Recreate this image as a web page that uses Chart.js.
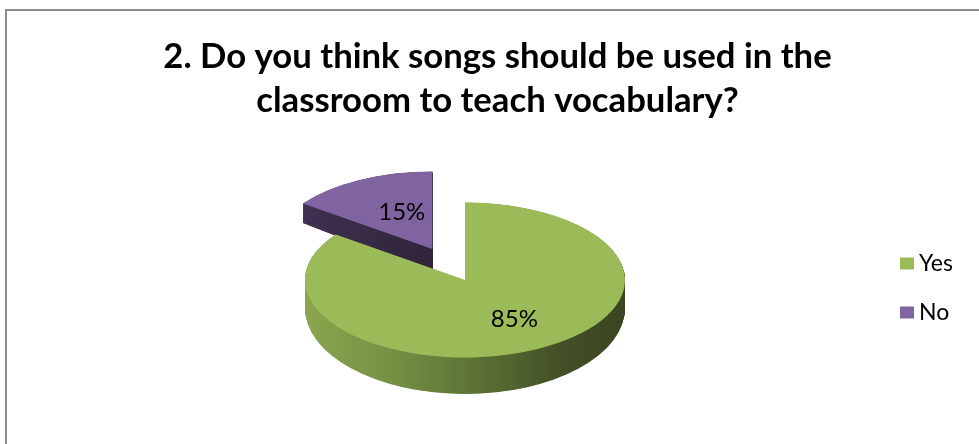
<!DOCTYPE html>
<html>
<head>
<meta charset="utf-8">
<script src="https://cdn.jsdelivr.net/npm/chart.js@4.4.1/dist/chart.umd.min.js"></script>
<style>
  html, body { margin: 0; padding: 0; background: #fff; }
  #wrap { position: relative; width: 979px; height: 444px; overflow: hidden; }
  #frame {
    position: absolute; left: 5px; top: 9px; width: 1000px; height: 500px;
    border-left: 2px solid #8c8c8c; border-top: 2px solid #8c8c8c;
  }
  #pie { position: absolute; left: 0; top: 0; }
</style>
</head>
<body>
<div id="wrap">
  <div id="frame"></div>
  <canvas id="pie" width="979" height="444"></canvas>
</div>
<script>
const labels = ["Yes", "No"];
const shares = [85, 15];
const titleLines = ["2. Do you think songs should be used in the", "classroom to teach vocabulary?"];

const topColors = ["#9BBB59", "#8064A2"];
const sideStops = [
  [[0, "#8aa64f"], [0.3, "#728e42"], [0.5, "#5f7636"], [0.8, "#434f26"], [1, "#3b4621"]],
  [[0, "#3e3151"], [0.4, "#2f2439"], [1, "#241b2e"]]
];

// 3D look: squash the pie vertically and stack copies underneath for the wall
const TILT = 0.484;      // height/width of the top face
const DROP = 28;         // how far the bottom face sits below the top, at the centre line
const FLARE = 0.11;      // bottom face drawn a bit taller, so the front wall looks deeper
const LAYERS = 72;
const EXPLODE = [0, 72]; // pull-out per slice
const LABEL_AT = [0.68, 0.42];
const LABEL_LIFT = 8;    // labels sit a little higher, as on a receding surface

// legend column on the right
const KEY_WIDTH = 65;
const KEY_PAD = 28;
const KEY_STEP = 49;
const KEY_NUDGE = 8;

function squash(ctx, cy, t) {
  ctx.translate(0, cy + DROP * t);
  ctx.scale(1, TILT * (1 + FLARE * t));
  ctx.translate(0, -cy);
}

const pie3d = {
  id: "pie3d",
  beforeDatasetDraw() {
    return false; // faces are painted in afterDatasetsDraw
  },
  afterDatasetsDraw(chart) {
    const ctx = chart.ctx;
    const arcs = chart.getDatasetMeta(0).data;
    const values = chart.data.datasets[0].data;
    const total = values.reduce((s, v) => s + v, 0);
    const cy = arcs[0].y;

    const mid = (a) => (a.startAngle + a.endAngle) / 2;
    // far slices first
    const order = arcs.map((a, i) => i).sort((i, j) => Math.sin(mid(arcs[i])) - Math.sin(mid(arcs[j])));

    const spots = [];
    order.forEach((i) => {
      const a = arcs[i];
      const { x, y, startAngle, endAngle, outerRadius } = a;
      const m = mid(a);
      const ox = x + Math.cos(m) * EXPLODE[i];
      const oy = y + Math.sin(m) * EXPLODE[i];

      const grad = ctx.createLinearGradient(x - outerRadius, 0, x + outerRadius, 0);
      sideStops[i].forEach(([p, c]) => grad.addColorStop(p, c));
      for (let k = LAYERS; k >= 1; k--) {
        ctx.save();
        squash(ctx, cy, k / LAYERS);
        ctx.beginPath();
        ctx.moveTo(ox, oy);
        ctx.arc(ox, oy, outerRadius, startAngle, endAngle);
        ctx.closePath();
        ctx.fillStyle = grad;
        ctx.fill();
        ctx.restore();
      }

      ctx.save();
      squash(ctx, cy, 0);
      ctx.translate(ox - x, oy - y);
      a.draw(ctx);
      ctx.restore();

      const r = outerRadius * LABEL_AT[i];
      spots[i] = {
        x: ox + Math.cos(m) * r,
        y: cy + (oy + Math.sin(m) * r - cy) * TILT - LABEL_LIFT,
        text: Math.round(values[i] / total * 100) + "%"
      };
    });

    ctx.save();
    ctx.font = "24px Lato";
    ctx.fillStyle = "#000";
    ctx.textAlign = "center";
    ctx.textBaseline = "middle";
    spots.forEach((s) => ctx.fillText(s.text, s.x, s.y));
    ctx.restore();
  }
};

// small legend that takes its own slot in the chart layout
const sideKey = {
  id: "sideKey",
  beforeInit(chart) {
    const box = {
      position: "right",
      weight: 1000,
      options: {},
      isHorizontal() {
        return false;
      },
      update(maxWidth, maxHeight) {
        this.width = KEY_WIDTH;
        this.height = maxHeight;
      },
      draw() {
        const ctx = chart.ctx;
        const names = chart.data.labels;
        const colors = chart.data.datasets[0].backgroundColor;
        const midY = (this.top + this.bottom) / 2 + KEY_NUDGE;
        ctx.save();
        ctx.font = "23px Lato";
        ctx.textBaseline = "middle";
        ctx.textAlign = "left";
        names.forEach((name, i) => {
          const y = midY + (i - (names.length - 1) / 2) * KEY_STEP;
          const bx = this.left + KEY_PAD + 1;
          ctx.fillStyle = colors[i];
          ctx.fillRect(bx, y - 6, 14, 12);
          ctx.fillStyle = "#000";
          ctx.fillText(name, bx + 19, y);
        });
        ctx.restore();
      }
    };
    Chart.layouts.addBox(chart, box);
  }
};

new Chart(document.getElementById("pie"), {
  type: "pie",
  data: {
    labels: labels,
    datasets: [
      {
        data: shares,
        backgroundColor: topColors,
        borderWidth: 0,
        radius: 160
      }
    ]
  },
  options: {
    responsive: false,
    animation: false,
    events: [],
    layout: {
      padding: { left: 59, right: 43, top: 0, bottom: 7 }
    },
    plugins: {
      title: {
        display: true,
        text: titleLines,
        color: "#000",
        font: { family: "Lato", size: 34.7, weight: "bold", lineHeight: 44 / 34.7 },
        padding: { top: 35, bottom: 0 }
      },
      legend: { display: false },
      tooltip: { enabled: false }
    }
  },
  plugins: [pie3d, sideKey]
});
</script>
</body>
</html>
